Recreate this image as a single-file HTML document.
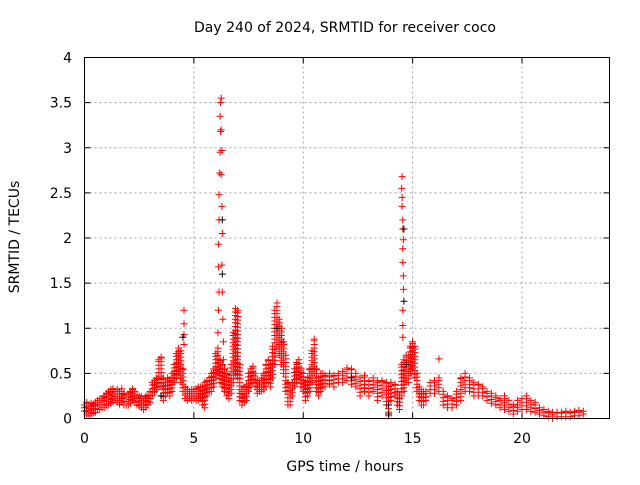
<!DOCTYPE html>
<html><head><meta charset="utf-8"><style>
body{margin:0;background:#fff;}
svg text{font-family:"DejaVu Sans","Liberation Sans",sans-serif;font-size:14px;fill:#000;}
</style></head><body>
<svg id="chart" width="640" height="480" viewBox="0 0 640 480" xmlns="http://www.w3.org/2000/svg">
<rect width="640" height="480" fill="#fff"/>
<text x="345" y="32" text-anchor="middle">Day 240 of 2024, SRMTID for receiver coco</text>
<text x="345" y="471" text-anchor="middle">GPS time / hours</text>
<text transform="translate(19,237) rotate(-90)" text-anchor="middle">SRMTID / TECUs</text>
<g id="grid"></g>
<g id="ticks"></g>
<g id="marks"></g>
<rect x="84.5" y="57.5" width="525" height="361" fill="none" stroke="#000" stroke-width="1"/>
</svg>
<script>
const xTicks=[0,5,10,15,20];
const yTicks=[0,0.5,1,1.5,2,2.5,3,3.5,4];
const yTickLabels=["0","0.5","1","1.5","2","2.5","3","3.5","4"];
const bandT=[0,0.1,0.2,0.3,0.4,0.5,0.6,0.7,0.8,0.9,1.0,1.1,1.2,1.3,1.4,1.5,1.6,1.7,1.8,1.9,2.0,2.1,2.2,2.3,2.4,2.5,2.6,2.7,2.8,2.9,3.0,3.1,3.2,3.3,3.4,3.5,3.6,3.7,3.8,3.9,4.0,4.1,4.2,4.3,4.4,4.5,4.6,4.7,4.8,4.9,5.0,5.1,5.2,5.3,5.4,5.5,5.6,5.7,5.8,5.9,6.0,6.1,6.2,6.3,6.4,6.5,6.6,6.7,6.8,6.9,7.0,7.1,7.2,7.3,7.4,7.5,7.6,7.7,7.8,7.9,8.0,8.1,8.2,8.3,8.4,8.5,8.6,8.7,8.8,8.9,9.0,9.1,9.2,9.3,9.4,9.5,9.6,9.7,9.8,9.9,10.0,10.1,10.2,10.3,10.4,10.5,10.6,10.7,10.8,10.9,11.0,11.2,11.4,11.6,11.8,12.0,12.2,12.4,12.6,12.8,13.0,13.2,13.4,13.6,13.8,13.9,14.0,14.2,14.3,14.4,14.5,14.6,14.7,14.8,14.9,15.0,15.1,15.2,15.3,15.4,15.5,15.6,15.8,16.0,16.2,16.4,16.6,16.8,17.0,17.2,17.4,17.6,17.8,18.0,18.2,18.4,18.6,18.8,19.0,19.2,19.4,19.6,19.8,20.0,20.2,20.4,20.6,20.8,21.0,21.2,21.4,21.6,21.8,22.0,22.2,22.4,22.6,22.8];
const bandLo=[0.08,0.05,0.03,0.05,0.06,0.07,0.1,0.1,0.12,0.12,0.15,0.15,0.17,0.18,0.2,0.18,0.16,0.18,0.15,0.15,0.15,0.17,0.2,0.18,0.15,0.14,0.12,0.1,0.12,0.15,0.18,0.25,0.3,0.32,0.35,0.35,0.2,0.25,0.28,0.25,0.3,0.4,0.45,0.5,0.4,0.3,0.22,0.2,0.22,0.2,0.22,0.2,0.2,0.22,0.15,0.12,0.25,0.3,0.3,0.35,0.45,0.5,0.4,0.35,0.3,0.25,0.22,0.28,0.4,0.5,0.45,0.2,0.15,0.18,0.2,0.3,0.35,0.4,0.35,0.28,0.3,0.3,0.32,0.35,0.4,0.35,0.45,0.6,0.8,0.7,0.6,0.5,0.3,0.15,0.15,0.25,0.35,0.4,0.45,0.35,0.3,0.2,0.25,0.3,0.4,0.5,0.3,0.25,0.3,0.35,0.35,0.38,0.35,0.4,0.4,0.42,0.38,0.35,0.25,0.3,0.25,0.3,0.2,0.25,0.15,0.03,0.2,0.25,0.15,0.1,0.25,0.3,0.4,0.4,0.5,0.55,0.45,0.3,0.2,0.15,0.15,0.2,0.28,0.28,0.3,0.15,0.12,0.12,0.15,0.2,0.3,0.3,0.25,0.25,0.25,0.2,0.17,0.15,0.12,0.1,0.08,0.05,0.08,0.1,0.1,0.08,0.07,0.05,0.03,0.02,0.0,0.02,0.02,0.02,0.02,0.03,0.03,0.05];
const bandHi=[0.15,0.18,0.15,0.17,0.16,0.18,0.2,0.22,0.22,0.25,0.28,0.3,0.32,0.33,0.3,0.32,0.3,0.33,0.28,0.25,0.27,0.3,0.33,0.3,0.26,0.25,0.24,0.22,0.25,0.26,0.3,0.4,0.42,0.45,0.65,0.68,0.45,0.4,0.45,0.42,0.5,0.6,0.72,0.78,0.75,0.55,0.35,0.32,0.3,0.32,0.32,0.33,0.35,0.35,0.35,0.4,0.42,0.45,0.5,0.55,0.72,0.78,0.65,0.6,0.55,0.5,0.45,0.6,0.95,1.22,1.2,0.6,0.3,0.35,0.38,0.5,0.55,0.58,0.5,0.42,0.4,0.45,0.5,0.6,0.65,0.6,0.8,1.2,1.28,1.1,1.0,0.85,0.7,0.4,0.35,0.4,0.55,0.62,0.65,0.55,0.5,0.4,0.45,0.55,0.75,0.88,0.55,0.45,0.5,0.5,0.48,0.5,0.48,0.5,0.52,0.56,0.55,0.5,0.45,0.48,0.42,0.45,0.42,0.42,0.4,0.35,0.4,0.38,0.3,0.25,0.6,0.65,0.7,0.7,0.8,0.85,0.8,0.5,0.35,0.3,0.3,0.3,0.4,0.42,0.45,0.3,0.25,0.22,0.3,0.45,0.5,0.45,0.4,0.38,0.35,0.3,0.28,0.25,0.22,0.25,0.2,0.15,0.2,0.22,0.25,0.2,0.18,0.12,0.1,0.08,0.07,0.07,0.07,0.08,0.07,0.08,0.09,0.08];
const spikeT=[4.55,4.55,4.55,4.55,6.1,6.12,6.15,6.13,6.12,6.15,6.15,6.18,6.2,6.22,6.2,6.22,6.25,6.25,6.28,6.25,6.28,6.3,6.28,6.3,6.32,6.35,6.35,14.55,14.55,14.55,14.58,14.58,14.55,14.55,14.58,14.55,14.55,14.52,14.52,14.5,14.52,16.2];
const spikeV=[0.82,0.93,1.05,1.2,0.95,1.2,1.4,1.68,1.93,2.2,2.48,2.72,2.95,3.18,3.35,3.5,3.55,3.2,2.97,2.7,2.35,2.05,1.7,1.4,1.1,0.85,0.65,0.9,1.03,1.2,1.43,1.58,1.73,1.88,1.98,2.1,2.2,2.35,2.45,2.55,2.68,0.66];
const darkT=[4.5,6.3,6.3,14.6,14.6,13.9,13.9,8.8,3.5,12.2,14.7];
const darkV=[0.9,1.6,2.2,1.3,2.1,0.05,0.15,1.0,0.25,0.45,0.6];

const X0=84.5,X1=609.5,Y0=418.5,Y1=57.5;
function sx(t){return X0+(t/24)*(X1-X0);}
function sy(v){return Y0-(v/4)*(Y0-Y1);}
const NS="http://www.w3.org/2000/svg";
function el(tag,attrs,parent){const e=document.createElementNS(NS,tag);for(const k in attrs)e.setAttribute(k,attrs[k]);parent.appendChild(e);return e;}
const grid=document.getElementById('grid'),ticks=document.getElementById('ticks'),marks=document.getElementById('marks');
xTicks.forEach(t=>{
  const x=sx(t);
  if(t>0){const g=el('line',{x1:x,x2:x,y1:Y0,y2:Y1,stroke:'#a0a0a0','stroke-dasharray':'2,3'},grid);
  
  }
  el('line',{x1:x,x2:x,y1:Y0,y2:Y0-6,stroke:'#000'},ticks);
  el('line',{x1:x,x2:x,y1:Y1,y2:Y1+6,stroke:'#000'},ticks);
  const l=el('text',{x:x,y:443,'text-anchor':'middle'},ticks);l.textContent=String(t);
  
  
});
yTicks.forEach((v,i)=>{
  const y=sy(v);
  if(v>0&&v<4){const g=el('line',{x1:X0,x2:X1,y1:y,y2:y,stroke:'#a0a0a0','stroke-dasharray':'2,3'},grid);
  
  }
  el('line',{x1:X0,x2:X0+6,y1:y,y2:y,stroke:'#000'},ticks);
  el('line',{x1:X1,x2:X1-6,y1:y,y2:y,stroke:'#000'},ticks);
  const l=el('text',{x:72,y:y+5,'text-anchor':'end'},ticks);l.textContent=yTickLabels[i];
  
  
});
let d='';
function cross(t,v){const x=sx(t),y=sy(v);d+=`M${(x-3.5).toFixed(1)} ${y.toFixed(1)}h7M${x.toFixed(1)} ${(y-3.5).toFixed(1)}v7`;}
bandT.forEach((t,i)=>{
  const lo=bandLo[i],hi=bandHi[i];
  for(let v=lo;v<hi;v+=0.04)cross(t,v);
  cross(t,hi);
});
spikeT.forEach((t,i)=>cross(t,spikeV[i]));
const red=el('path',{d:d,stroke:'#ff0000','stroke-width':1,fill:'none'},marks);


d='';
darkT.forEach((t,i)=>cross(t,darkV[i]));
const blk=el('path',{d:d,stroke:'#000','stroke-width':1,fill:'none'},marks);


</script>
</body></html>
